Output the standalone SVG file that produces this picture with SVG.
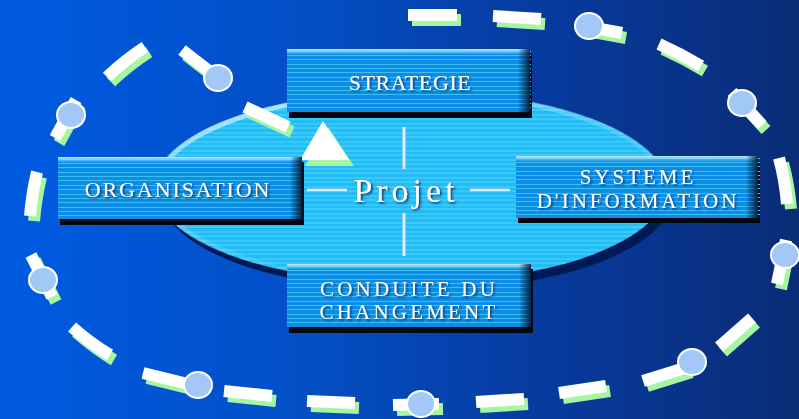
<svg xmlns="http://www.w3.org/2000/svg" xmlns:xlink="http://www.w3.org/1999/xlink" width="799" height="419" viewBox="0 0 799 419">
<defs>
<linearGradient id="bg" x1="0" y1="0" x2="1" y2="0">
<stop offset="0" stop-color="#005be2"/>
<stop offset="0.4" stop-color="#034ec4"/>
<stop offset="0.65" stop-color="#073ca2"/>
<stop offset="1" stop-color="#0a2c76"/>
</linearGradient>
<linearGradient id="rim" x1="0" y1="0" x2="0.6" y2="1">
<stop offset="0" stop-color="#e8fbff" stop-opacity="0.9"/>
<stop offset="0.45" stop-color="#c0f0ff" stop-opacity="0.3"/>
<stop offset="1" stop-color="#c0f0ff" stop-opacity="0"/>
</linearGradient>
<linearGradient id="bright" x1="0" y1="0" x2="1" y2="0">
<stop offset="0" stop-color="#000" stop-opacity="0"/>
<stop offset="1" stop-color="#001030" stop-opacity="0.85"/>
</linearGradient>
<linearGradient id="btop" x1="0" y1="0" x2="0" y2="1">
<stop offset="0" stop-color="#d8f4ff" stop-opacity="0.95"/>
<stop offset="1" stop-color="#80d4ff" stop-opacity="0.2"/>
</linearGradient>
<filter id="ts" x="-10%" y="-30%" width="120%" height="160%">
<feDropShadow dx="1.5" dy="1.5" stdDeviation="1" flood-color="#002a66" flood-opacity="0.95"/>
</filter>
<g id="dashes">
<path d="M408,15 L457,15"/>
<path d="M493,16 L541,19"/>
<path d="M578,25 L622,33"/>
<path d="M659,44 Q681,54 701,66"/>
<path d="M732,92 L762,125"/>
<path d="M779,158 Q785,180 787,204"/>
<path d="M786,240 L777,284"/>
<path d="M719,347 L752,318"/>
<path d="M643,381 L688,367"/>
<path d="M559,393 L606,386"/>
<path d="M476,402 L524,399"/>
<path d="M393,405 L439,404"/>
<path d="M307,401 L355,403"/>
<path d="M224,391 L272,396"/>
<path d="M143,373 L192,385"/>
<path d="M72,327 Q90,343 110,355"/>
<path d="M31,255 L52,297"/>
<path d="M37,172 Q32,193 30,216"/>
<path d="M76,100 L55,138"/>
<path d="M107,77 Q125,60 145,47"/>
<path d="M182,50 L218,78"/>
<path d="M245,107 L288,127"/>
</g>
<g id="estr" stroke="#54d4fd" stroke-width="1">
<path d="M150,92H670M150,97H670M150,101H670M150,106H670M150,110H670M150,115H670M150,119H670M150,124H670M150,128H670M150,133H670M150,137H670M150,142H670M150,146H670M150,151H670M150,155H670M150,160H670M150,164H670M150,169H670M150,173H670M150,178H670M150,182H670M150,187H670M150,191H670M150,196H670M150,200H670M150,205H670M150,209H670M150,214H670M150,218H670M150,223H670M150,227H670M150,232H670M150,236H670M150,241H670M150,245H670M150,250H670M150,254H670M150,259H670M150,263H670M150,268H670M150,272H670M150,277H670M150,281H670"/>
</g>
<g id="bstr" stroke="#3cbef8" stroke-width="1">
<path d="M0,2.5H244M0,6.5H244M0,10.5H244M0,15.5H244M0,19.5H244M0,23.5H244M0,28.5H244M0,32.5H244M0,37.5H244M0,41.5H244M0,45.5H244M0,50.5H244M0,54.5H244M0,58.5H244"/>
</g>
<clipPath id="ec"><ellipse cx="411" cy="187" rx="256" ry="96"/></clipPath>
<style>
.lbl{font-family:"Liberation Serif","Times New Roman",serif;font-size:22px;fill:#ffffff;text-anchor:middle;filter:url(#ts)}
.two{font-size:21px}
.knob{fill:#a2c8f8;stroke:#ffffff;stroke-width:2}
.base{fill:#0c8ee6}
</style>
</defs>

<rect width="799" height="419" fill="url(#bg)"/>

<g id="hub">
<ellipse cx="417" cy="195" rx="256" ry="96" fill="#001a58"/>
<ellipse cx="411" cy="187" rx="256" ry="96" fill="#22bcf6"/>
<use xlink:href="#estr" clip-path="url(#ec)"/>
<ellipse cx="411" cy="187" rx="254" ry="94" fill="none" stroke="url(#rim)" stroke-width="5"/>
</g>

<g id="ring">
<use xlink:href="#dashes" transform="translate(4,5)" stroke="#a6f5a0" stroke-width="12" fill="none"/>
<use xlink:href="#dashes" stroke="#ffffff" stroke-width="12" fill="none"/>
<ellipse class="knob" cx="589" cy="26" rx="14" ry="13"/>
<ellipse class="knob" cx="742" cy="103" rx="14" ry="13"/>
<ellipse class="knob" cx="785" cy="255" rx="14" ry="13"/>
<ellipse class="knob" cx="692" cy="362" rx="14" ry="13"/>
<ellipse class="knob" cx="421" cy="404" rx="14" ry="13"/>
<ellipse class="knob" cx="198" cy="385" rx="14" ry="13"/>
<ellipse class="knob" cx="43" cy="280" rx="14" ry="13"/>
<ellipse class="knob" cx="71" cy="115" rx="14" ry="13"/>
<ellipse class="knob" cx="218" cy="78" rx="14" ry="13"/>
</g>

<g id="arrow">
<polygon points="328,127 305,166 354,166" fill="#a6f5a0"/>
<polygon points="323,121 300,160 349,160" fill="#ffffff"/>
</g>

<g id="connectors" stroke="#e4e8ee" fill="none">
<line x1="404" y1="127" x2="404" y2="169" stroke-width="3"/>
<line x1="404" y1="213" x2="404" y2="256" stroke-width="3"/>
<line x1="307" y1="190" x2="347" y2="190" stroke-width="2.5"/>
<line x1="470" y1="190" x2="510" y2="190" stroke-width="2.5"/>
</g>

<g id="projet">
<text x="406" y="202" font-family="Liberation Serif, Times New Roman, serif" font-size="34" letter-spacing="4" fill="#ffffff" text-anchor="middle" filter="url(#ts)">Projet</text>
</g>

<g id="strategie">
<rect x="289" y="54" width="243" height="64" fill="#000814"/>
<rect class="base" x="287" y="49" width="243" height="63"/>
<use xlink:href="#bstr" transform="translate(287,49)"/>
<rect x="287" y="49" width="243" height="5" fill="url(#btop)"/>
<rect x="518" y="49" width="12" height="63" fill="url(#bright)"/>
<text class="lbl" x="410" y="90" letter-spacing="0.6">STRATEGIE</text>
</g>

<g id="organisation">
<rect x="60" y="162" width="244" height="63" fill="#000814"/>
<rect class="base" x="58" y="157" width="244" height="62"/>
<use xlink:href="#bstr" transform="translate(58,157)"/>
<rect x="58" y="157" width="244" height="5" fill="url(#btop)"/>
<rect x="290" y="157" width="12" height="62" fill="url(#bright)"/>
<text class="lbl" x="178" y="197" letter-spacing="1.9">ORGANISATION</text>
</g>

<g id="systeme">
<rect x="518" y="161" width="242" height="62" fill="#000814"/>
<rect class="base" x="516" y="156" width="242" height="62"/>
<use xlink:href="#bstr" transform="translate(516,156)"/>
<rect x="516" y="156" width="242" height="5" fill="url(#btop)"/>
<rect x="746" y="156" width="12" height="62" fill="url(#bright)"/>
<text class="lbl two" x="638" y="184" letter-spacing="3">SYSTEME</text>
<text class="lbl two" x="638" y="208" letter-spacing="3">D'INFORMATION</text>
</g>

<g id="conduite">
<rect x="289" y="269" width="244" height="64" fill="#000814"/>
<rect class="base" x="287" y="264" width="244" height="63"/>
<use xlink:href="#bstr" transform="translate(287,264)"/>
<rect x="287" y="264" width="244" height="5" fill="url(#btop)"/>
<rect x="519" y="264" width="12" height="63" fill="url(#bright)"/>
<text class="lbl two" x="409" y="296" letter-spacing="3.2">CONDUITE DU</text>
<text class="lbl two" x="409" y="319" letter-spacing="3.2">CHANGEMENT</text>
</g>
</svg>
